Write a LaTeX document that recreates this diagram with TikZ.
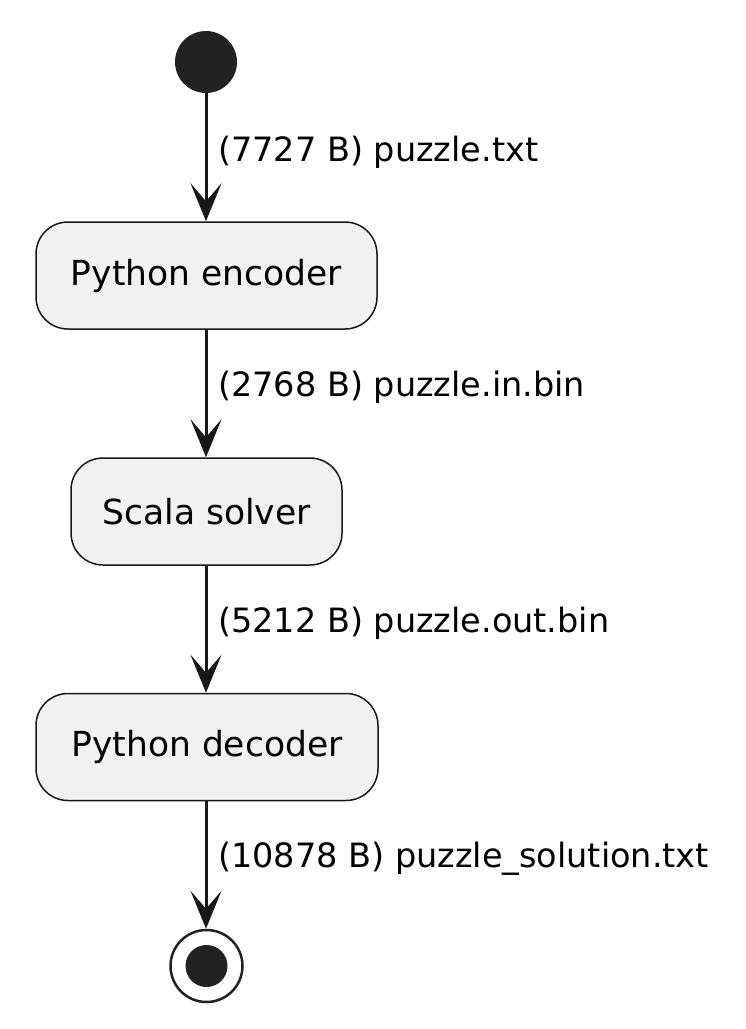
\documentclass[tikz,border=0pt]{standalone}
\usepackage{fontspec}
\setmainfont{DejaVu Sans}
\usetikzlibrary{arrows.meta}
\definecolor{boxfill}{HTML}{F1F1F1}
\definecolor{lineclr}{HTML}{181818}
\definecolor{dotclr}{HTML}{222222}
\begin{document}
\begin{tikzpicture}[x=1pt,y=-1pt,
  actbox/.style={draw=lineclr, line width=1.5pt, fill=boxfill, rounded corners=32pt,
    minimum height=107pt, inner sep=0pt, font=\fontsize{34.5}{40}\selectfont, text=black},
  flow/.style={draw=lineclr, line width=3pt, -{Stealth[length=38pt,width=31pt,inset=18pt]}},
  elabel/.style={font=\fontsize{33.5}{39}\selectfont, text=black, anchor=west, inner sep=0pt}]
\useasboundingbox (0,0) rectangle (746,1029);
\node[circle, fill=dotclr, minimum size=62pt, inner sep=0pt] (start) at (206,62) {};
\node[actbox, minimum width=341pt] (enc) at (206.5,275.5) {Python encoder};
\node[actbox, minimum width=271pt] (sol) at (206.5,511.5) {Scala solver};
\node[actbox, minimum width=342pt] (dec) at (207,747) {Python decoder};
\node[circle, draw=dotclr, line width=2.5pt, fill=white, minimum size=72pt, inner sep=0pt] (stop) at (206.5,966) {};
\node[circle, fill=dotclr, minimum size=42pt, inner sep=0pt] (stopin) at (stop.center) {};
\draw[flow] (start.south) -- (enc.north -| start.south);
\draw[flow] (enc.south -| start.south) -- (sol.north -| start.south);
\draw[flow] (sol.south -| start.south) -- (dec.north -| start.south);
\draw[flow] (dec.south -| start.south) -- (stop.north -| start.south);
\node[elabel] (l1) at (218,152) {(7727 B) puzzle.txt};
\node[elabel] (l2) at (218,387) {(2768 B) puzzle.in.bin};
\node[elabel] (l3) at (218,623) {(5212 B) puzzle.out.bin};
\node[elabel] (l4) at (218,859) {(10878 B) puzzle\_solution.txt};
\end{tikzpicture}
\end{document}
